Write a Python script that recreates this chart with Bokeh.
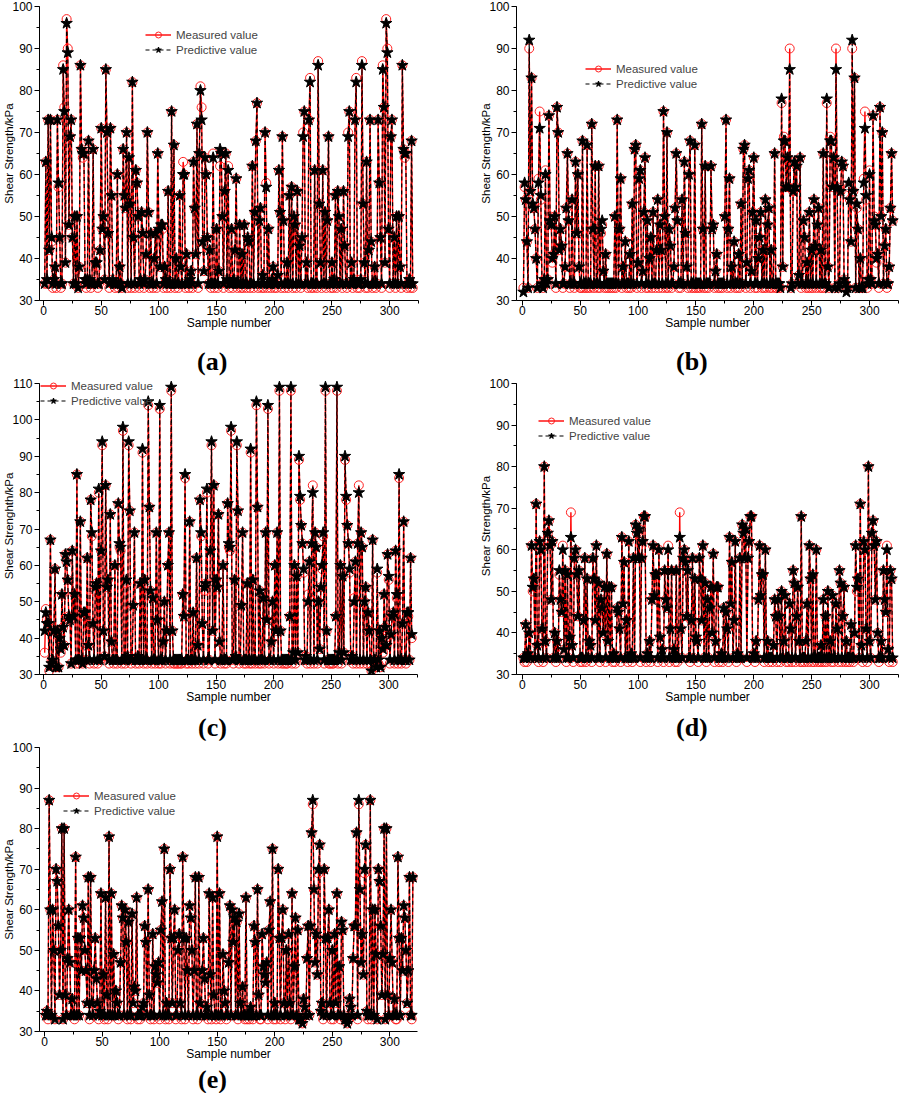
from bokeh.plotting import figure
from bokeh.models import Range1d, SingleIntervalTicker, Legend, LegendItem, Div
from bokeh.layouts import column, row
from bokeh.embed import file_html
from bokeh.resources import INLINE

FONT = "Liberation Sans"
SERIF = "Liberation Serif"

# ---------------- data ----------------
a_measured = [
34,63,34,73,42,73,44,33,35,38,33,73,57,45,33,34,86,76,39,97,
90,48,69,73,45,34,50,34,50,33,38,86,66,64,65,34,33,35,68,34,
33,34,66,34,39,38,33,34,42,71,47,50,35,85,70,46,33,71,55,35,
34,33,34,60,33,38,34,33,66,55,52,70,33,64,53,33,82,45,33,61,
58,50,33,34,51,46,33,35,41,70,51,33,46,34,33,40,46,33,65,46,
38,48,47,33,38,35,33,56,34,33,75,34,67,33,40,34,33,55,38,34,
63,60,33,41,34,33,35,37,33,63,52,41,72,33,65,81,76,44,37,64,
60,45,34,42,33,34,65,33,34,47,33,37,62,65,50,33,56,65,35,62,
33,34,47,33,35,42,59,33,34,48,33,41,33,48,34,33,45,44,33,34,
62,33,51,68,77,33,49,52,33,36,33,70,58,33,47,34,33,35,38,33,
34,33,36,61,51,33,69,49,33,34,39,33,55,34,57,33,50,48,33,56,
34,43,33,45,70,75,34,39,33,73,83,33,34,33,61,34,33,87,53,39,
33,61,34,51,33,49,69,34,33,39,33,35,55,33,56,50,34,47,33,56,
43,34,33,70,75,34,39,33,35,73,83,33,34,33,35,87,53,39,33,63,
33,42,73,44,33,34,38,33,34,73,58,45,33,86,76,39,97,90,47,33,
69,73,34,45,33,50,34,50,38,33,86,66,64,65,33,34,35,33,68,33]
a_predicted = [
34,63,35,73,42,73,45,34,35,38,34,73,58,45,34,34,85,75,39,96,
89,48,69,73,45,34,50,34,50,33,38,86,66,65,65,35,34,35,68,35,
34,34,66,34,39,39,34,34,42,71,47,50,35,85,70,46,34,71,55,35,
34,34,34,60,34,38,34,33,66,55,52,70,34,64,53,34,82,45,34,61,
58,50,34,35,51,46,34,35,41,70,51,34,46,34,34,40,46,34,65,47,
38,48,48,34,38,35,34,56,34,34,75,34,67,34,40,34,34,55,38,34,
60,60,34,41,34,34,35,37,34,63,52,41,72,34,65,80,73,44,37,64,
60,45,34,42,34,34,64,34,34,47,34,37,66,65,50,34,56,65,35,61,
34,34,47,34,35,42,59,34,34,48,34,41,34,48,34,34,45,44,34,34,
62,34,51,68,77,34,49,52,34,36,34,70,57,34,47,34,34,35,38,34,
34,34,36,61,51,34,69,49,34,34,39,34,55,34,57,34,50,48,34,56,
34,43,34,45,69,75,34,39,34,73,82,34,34,34,61,34,34,86,53,39,
34,61,34,51,34,49,69,34,34,39,34,35,55,34,56,50,34,47,34,56,
43,34,34,69,75,34,39,34,35,73,82,34,34,34,35,86,53,39,34,63,
34,42,73,44,34,34,38,34,34,73,58,45,34,85,76,39,96,89,47,34,
69,73,34,45,34,50,34,50,38,34,86,66,65,65,34,34,35,34,68,34]

b_measured = [
33,57,54,44,33,90,56,83,52,52,47,40,33,59,75,54,34,33,35,61,
34,35,74,50,48,39,41,50,33,76,70,42,47,43,33,34,38,52,65,49,
33,34,54,34,33,63,46,60,38,33,33,68,33,34,33,67,33,34,33,72,
47,33,62,34,33,62,33,46,48,37,33,41,33,34,33,34,33,34,33,50,
33,73,34,47,59,33,38,34,44,33,34,33,41,33,53,34,66,67,33,39,
59,61,33,37,51,64,33,49,33,40,45,33,51,34,33,42,54,33,48,41,
33,75,50,33,70,33,47,43,33,34,38,52,65,49,33,34,33,54,34,63,
46,38,33,60,68,33,34,33,67,33,34,33,34,33,72,47,33,62,33,34,
33,34,62,47,48,33,37,41,33,34,33,34,33,34,50,73,33,47,59,33,
38,34,44,33,34,33,41,33,53,34,66,67,33,39,59,61,33,37,51,64,
33,49,33,40,45,51,33,42,33,54,33,48,52,33,42,33,34,65,33,33,
34,33,33,77,38,69,68,57,64,57,90,33,34,56,63,57,62,34,36,64,
33,34,49,45,33,39,33,51,33,42,33,54,43,33,48,52,33,42,33,65,
33,34,77,38,33,69,68,57,64,33,90,57,33,34,56,63,62,35,34,33,
33,57,54,44,90,56,83,33,52,47,33,40,33,33,59,75,54,33,35,61,
35,34,74,50,48,39,41,33,76,50,70,34,43,47,33,34,38,52,65,49]
b_predicted = [
32,58,54,44,33,92,56,83,53,52,47,40,33,58,71,55,34,33,35,60,
34,35,74,49,48,40,41,50,34,76,70,42,47,43,34,34,38,52,65,49,
34,34,54,34,34,63,46,60,38,34,34,68,34,34,34,67,34,34,34,72,
47,34,62,34,34,62,34,47,49,37,34,41,34,34,34,34,34,34,34,50,
34,73,34,47,59,34,38,34,44,34,34,34,41,34,53,34,66,67,34,39,
59,61,34,37,51,64,34,49,34,40,45,34,51,34,34,42,54,34,48,42,
34,75,50,34,70,34,47,43,34,34,38,52,65,49,34,34,34,54,34,63,
46,38,34,60,68,34,34,34,67,34,34,34,34,34,72,47,34,62,34,34,
34,34,62,47,48,34,37,41,34,34,34,34,34,34,50,73,34,47,59,34,
38,34,44,34,34,34,41,34,53,34,66,67,34,39,59,61,34,37,51,64,
34,49,34,40,45,51,34,42,34,54,34,48,52,34,42,34,34,65,34,34,
34,34,33,78,38,68,68,57,64,57,85,33,34,56,63,57,62,34,36,64,
34,34,49,45,34,39,34,51,34,42,34,54,43,34,48,52,34,42,34,65,
34,34,78,38,33,68,68,57,64,33,85,57,33,34,56,63,62,35,34,32,
33,58,54,44,92,56,83,33,53,47,33,40,33,33,58,71,55,34,35,60,
35,34,74,49,48,40,41,34,76,50,70,34,43,47,34,34,38,52,65,49]

c_measured = [
36,48,45,44,31,67,34,33,42,59,32,42,32,40,36,52,43,38,63,61,
56,46,45,33,64,46,52,33,85,34,33,72,34,33,47,46,34,62,38,33,
78,68,44,33,53,55,33,80,34,64,93,42,35,82,54,56,33,74,39,34,
33,60,34,33,77,65,64,33,97,34,33,55,35,93,75,33,34,49,69,33,
34,35,33,55,34,91,33,56,34,33,104,76,53,33,51,34,33,69,45,33,
103,33,34,39,50,33,42,60,69,33,108,42,33,33,34,33,33,34,33,33,
52,46,84,33,34,33,72,34,33,47,34,33,62,38,33,78,68,44,33,53,
55,80,33,34,64,93,42,82,33,56,54,74,39,33,34,60,33,34,33,77,
65,64,97,34,33,56,35,93,75,33,34,49,69,33,34,33,55,34,33,91,
33,56,34,33,104,76,33,53,33,34,51,33,69,45,103,33,34,39,50,33,
60,42,69,33,108,42,33,34,33,34,33,33,34,46,108,33,36,60,33,57,
36,89,78,71,66,58,34,35,33,52,61,33,66,82,33,69,65,33,50,37,
54,59,68,33,108,42,34,33,33,34,33,33,34,46,108,33,36,60,33,57,
36,89,78,71,66,58,34,35,33,51,61,33,66,82,33,69,65,33,50,54,
33,47,42,33,31,67,34,33,32,58,33,42,32,40,36,52,43,38,63,56,
33,41,46,47,33,64,51,33,84,34,33,44,72,34,33,47,46,34,62,40]
c_predicted = [
42,47,44,44,32,67,33,34,42,59,32,42,32,40,37,52,43,38,63,61,
56,46,45,33,64,46,52,34,85,34,34,72,34,33,47,47,34,62,38,34,
78,69,44,34,54,55,34,81,34,64,94,42,35,82,54,56,34,74,39,34,
34,60,34,34,77,66,65,34,98,34,34,56,35,94,75,34,34,49,69,34,
34,35,34,55,34,92,34,56,34,34,105,76,53,34,51,34,34,69,45,34,
104,34,34,39,50,34,42,60,69,34,109,42,34,34,34,34,34,34,34,34,
52,46,85,34,34,34,72,34,34,47,34,34,62,38,34,78,69,44,34,54,
55,81,34,34,64,94,42,82,34,56,54,74,39,34,34,60,34,34,34,77,
66,65,98,34,34,56,35,94,75,34,34,49,69,34,34,34,55,34,34,92,
34,56,34,34,105,76,34,53,34,34,51,34,69,45,104,34,34,39,50,34,
60,42,69,34,109,42,34,34,34,34,34,34,34,46,109,34,36,60,34,57,
36,90,79,71,66,59,34,35,34,50,61,34,66,80,34,69,65,34,50,37,
54,60,69,34,109,42,34,34,34,34,34,34,34,46,109,34,36,60,34,57,
36,90,79,71,66,59,34,35,34,50,61,34,66,80,34,69,65,34,50,54,
34,47,42,34,31,67,34,34,32,59,34,42,32,40,37,52,43,38,63,57,
34,41,46,47,34,64,52,34,85,34,34,44,72,34,34,47,47,34,62,41]

d_measured = [
34,33,42,33,35,40,34,61,50,53,34,71,37,33,62,60,41,33,80,38,
34,64,67,61,48,62,34,40,33,38,34,54,48,45,61,36,55,33,54,34,
39,69,37,33,58,60,54,44,55,33,34,33,43,58,33,53,34,38,37,33,
58,53,43,61,34,52,33,48,46,40,51,33,59,38,51,34,51,33,35,33,
34,46,45,41,33,63,47,57,34,43,33,62,34,35,33,58,34,66,64,58,
65,33,58,62,68,68,33,35,34,38,33,48,61,49,54,54,33,60,39,34,
36,33,55,48,46,61,33,41,55,34,36,33,55,33,34,69,41,34,58,60,
57,44,55,34,33,43,58,34,53,39,38,33,58,53,43,61,34,52,33,48,
34,46,51,40,59,33,38,51,51,33,34,35,33,46,34,45,41,33,63,47,
57,34,43,62,33,35,34,58,34,66,64,58,65,33,58,62,68,68,34,35,
33,38,34,48,61,49,54,54,33,60,34,38,33,34,34,33,37,48,44,33,
48,44,33,50,34,38,49,33,34,33,47,41,33,55,52,33,44,51,38,33,
68,33,34,33,38,47,33,61,53,33,54,33,34,60,33,34,33,37,33,48,
33,44,33,50,34,38,33,49,33,34,47,41,33,55,52,33,44,51,33,38,
33,34,33,42,34,33,40,61,50,53,34,71,37,33,62,60,41,33,80,38,
34,64,67,61,48,62,40,33,34,38,34,55,48,45,61,36,33,55,53,33]
d_predicted = [
34,34,42,34,35,40,34,61,51,53,34,71,37,34,62,60,41,34,80,38,
34,64,67,61,48,62,34,40,34,38,34,55,48,45,60,36,55,34,54,34,
39,63,37,34,58,60,54,44,55,34,34,34,43,58,34,53,34,38,37,34,
58,53,43,61,34,52,34,48,46,40,51,34,59,38,51,34,51,34,35,34,
34,46,45,41,34,63,47,57,34,43,34,62,34,35,34,58,34,66,64,58,
65,34,58,62,68,68,34,35,34,38,34,48,61,49,54,54,34,60,39,34,
36,34,55,48,46,60,34,41,55,34,36,34,55,34,34,63,41,34,58,60,
57,44,55,34,34,43,58,34,53,39,38,34,58,53,43,61,34,52,34,48,
34,46,51,40,59,34,38,51,51,34,34,35,34,46,34,45,41,34,63,47,
57,34,43,62,34,35,34,58,34,66,64,58,65,34,58,62,68,68,34,35,
34,38,34,48,61,49,54,54,34,60,34,38,34,34,34,34,37,48,44,34,
48,44,34,50,34,38,49,34,34,34,47,41,34,55,52,34,44,51,38,34,
68,34,34,34,38,47,34,61,53,34,54,34,34,60,34,34,34,37,34,48,
34,44,34,50,34,38,34,49,34,34,47,41,34,55,52,34,44,51,34,38,
34,34,34,42,34,34,40,61,51,53,34,71,37,34,62,60,41,34,80,38,
34,64,67,61,48,62,40,34,34,38,34,55,48,45,60,36,34,55,53,34]

e_measured = [
34,35,33,87,60,34,60,50,33,70,67,56,39,50,80,33,80,39,34,48,
60,47,34,38,34,33,73,34,53,34,53,45,61,58,50,45,37,68,33,68,
37,34,45,53,43,37,33,35,64,34,44,33,63,39,33,78,34,64,34,49,
34,40,37,33,34,47,61,58,34,60,52,33,57,34,33,59,37,41,40,63,
33,34,33,34,36,37,56,52,34,65,39,33,34,54,33,46,44,42,47,33,
55,62,34,75,33,37,34,33,70,53,37,53,60,33,34,50,54,37,33,73,
53,33,53,45,34,61,58,50,33,45,68,34,33,68,37,34,45,53,43,34,
36,33,64,44,33,63,39,34,33,78,34,64,33,34,49,40,37,33,34,47,
61,34,60,52,58,34,57,33,59,37,34,41,34,33,63,33,34,33,36,34,
33,56,52,34,65,39,33,33,54,46,44,42,47,33,55,62,34,75,33,37,
33,34,70,53,33,53,60,37,33,50,34,54,37,33,64,34,46,58,34,55,
33,33,33,32,38,36,34,48,56,34,56,79,86,65,47,54,44,69,76,35,
37,33,70,53,34,53,60,37,33,50,33,54,37,64,34,46,33,57,55,34,
33,33,32,33,38,36,34,48,56,56,79,33,86,65,47,54,44,69,76,35,
33,34,87,33,60,34,60,49,33,70,67,56,39,49,80,33,80,39,34,48,
60,47,34,38,33,33,73,53,34,53,45,61,58,50,37,45,68,34,33,68]
e_predicted = [
34,35,34,87,60,34,60,50,33,70,67,56,39,50,80,33,80,39,34,48,
60,47,34,38,34,34,73,34,53,34,53,45,61,58,50,45,37,68,34,68,
37,34,45,53,43,37,34,35,64,34,44,34,63,39,34,78,34,64,34,49,
34,40,37,34,34,47,61,58,34,60,52,34,57,34,34,59,37,41,40,63,
34,34,34,34,36,37,56,52,34,65,39,34,34,54,34,46,44,42,47,34,
55,62,34,75,34,37,34,34,70,53,37,53,60,34,34,50,54,37,34,73,
53,34,53,45,34,61,58,50,34,45,68,34,34,68,37,34,45,53,43,34,
36,34,64,44,34,63,39,34,34,78,34,64,34,34,49,40,37,34,34,47,
61,34,60,52,58,34,57,34,59,37,34,41,34,34,63,34,34,34,36,34,
34,56,52,34,65,39,34,34,54,46,44,42,47,34,55,62,34,75,34,37,
34,34,70,53,34,53,60,37,34,50,34,54,37,34,64,34,46,58,34,55,
33,33,33,32,38,36,34,48,56,34,56,79,87,65,47,54,44,70,76,35,
37,34,70,53,34,53,60,37,34,50,34,54,37,64,34,46,34,57,55,34,
33,33,32,33,38,36,34,48,56,56,79,34,87,65,47,54,44,70,76,35,
34,34,87,34,60,34,60,49,33,70,67,56,39,49,80,33,80,39,34,48,
60,47,34,38,34,34,73,53,34,53,45,61,58,50,37,45,68,34,34,68]

y_label = "Shear Strength/kPa"
y_label_c = "Shear Strenghth/kPa"
x_label = "Sample number"
series_names = ["Measured value", "Predictive value"]
panel_letters = ["(a)", "(b)", "(c)", "(d)", "(e)"]


def panel(meas, pred, ylab, yr, xr, w, h, borders, leg_loc, ybounds=None):
    bl, br, bt, bb = borders
    p = figure(width=w, height=h, x_range=Range1d(*xr), y_range=Range1d(*yr),
               output_backend="svg", toolbar_location=None, title=None,
               min_border_left=bl, min_border_right=br,
               min_border_top=bt, min_border_bottom=bb)
    p.xgrid.visible = False
    p.ygrid.visible = False
    p.outline_line_color = None
    p.background_fill_color = "white"
    p.xaxis.ticker = SingleIntervalTicker(interval=50, num_minor_ticks=2)
    p.yaxis.ticker = SingleIntervalTicker(interval=10, num_minor_ticks=2)
    for ax in (p.xaxis[0], p.yaxis[0]):
        ax.axis_line_color = "black"
        ax.axis_line_width = 1
        ax.major_tick_line_color = "black"
        ax.minor_tick_line_color = "black"
        ax.major_tick_out = 5
        ax.major_tick_in = 0
        ax.minor_tick_out = 3
        ax.minor_tick_in = 0
        ax.major_label_text_font = FONT
        ax.major_label_text_font_size = "12px"
        ax.major_label_text_color = "black"
        ax.axis_label_text_font = FONT
        ax.axis_label_text_font_style = "normal"
        ax.axis_label_text_color = "black"
    if ybounds is not None:
        p.yaxis.bounds = ybounds
    p.xaxis.axis_label = x_label
    p.xaxis.axis_label_text_font_size = "12px"
    p.xaxis.major_label_standoff = 0
    p.xaxis.axis_label_standoff = -2
    p.yaxis.axis_label = ylab
    p.yaxis.axis_label_text_font_size = "11.5px"
    p.yaxis.major_label_standoff = 2
    p.yaxis.axis_label_standoff = -6

    xm = list(range(1, len(meas) + 1))
    xp = list(range(1, len(pred) + 1))
    r1 = p.line(xm, meas, line_color="#FF0000", line_width=1.4)
    r2 = p.scatter(xm, meas, marker="circle", size=9, line_color="#FF2020",
                   fill_alpha=0, line_width=1)
    r3 = p.line(xp, pred, line_color="black", line_dash="4 3", line_width=1.2)
    r4 = p.scatter(xp, pred, marker="star", size=12, fill_color="black",
                   line_color="black")
    leg = Legend(items=[LegendItem(label=series_names[0], renderers=[r1, r2]),
                        LegendItem(label=series_names[1], renderers=[r3, r4])],
                 location=leg_loc, border_line_alpha=0, background_fill_alpha=0,
                 padding=0, margin=0, spacing=0, label_height=15, glyph_height=15,
                 glyph_width=26, label_standoff=5, label_text_font=FONT,
                 label_text_font_size="11.5px")
    p.add_layout(leg)
    return p


def letter_div(text, w, h, left, top):
    html = ('<div style="font-family:\'%s\';font-weight:bold;font-size:26px;'
            'line-height:24px;color:black;padding-left:%dpx;padding-top:%dpx;'
            'white-space:nowrap;">%s</div>') % (SERIF, left, top, text)
    return Div(text=html, width=w, height=h, margin=(0, 0, 0, 0))


pa = panel(a_measured, a_predicted, y_label, (30, 100), (-3.5, 325),
           450, 345, (39, 32, 6, 45), (106, 243))
pb = panel(b_measured, b_predicted, y_label, (30, 100), (-5, 325),
           449, 345, (66, 1, 6, 45), (69, 209))
pc = panel(c_measured, c_predicted, y_label_c, (30, 111.65), (-3.5, 325),
           450, 337, (39, 33, 1, 39), (1, 266), ybounds=(30, 110))
pd = panel(d_measured, d_predicted, y_label, (30, 101.44), (-5, 325),
           449, 337, (66, 1, 1, 39), (22, 231), ybounds=(30, 100))
pe = panel(e_measured, e_predicted, y_label, (30, 100), (-4.4, 324),
           450, 327, (39, 33, 7, 36), (24, 213))

da = letter_div(panel_letters[0], 450, 31, 197, 5)
db = letter_div(panel_letters[1], 449, 31, 226, 5)
dc = letter_div(panel_letters[2], 450, 27, 198, 3)
dd = letter_div(panel_letters[3], 449, 27, 226, 3)
de = letter_div(panel_letters[4], 450, 24, 198, 1)

layout = column(row(pa, pb), row(da, db), row(pc, pd), row(dc, dd), pe, de)
open("out.html", "w").write(file_html(layout, INLINE))
